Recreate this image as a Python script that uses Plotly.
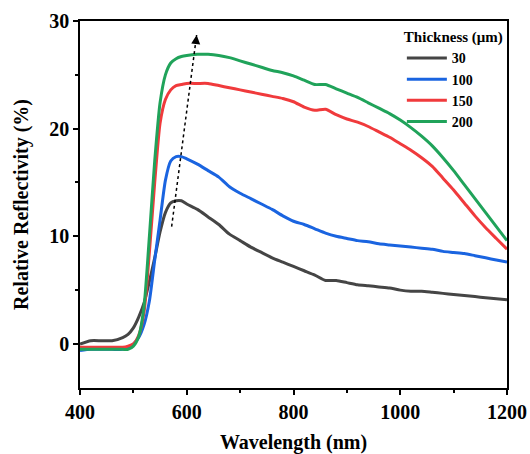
import plotly.graph_objects as go

wavelength = [400, 420, 440, 460, 480, 490, 500, 510, 520, 530, 540, 550, 560, 570, 580, 590, 600,
              620, 640, 660, 680, 700, 720, 740, 760, 780, 800, 820, 840, 860, 880, 900, 920, 940,
              960, 980, 1000, 1020, 1040, 1060, 1080, 1100, 1120, 1140, 1160, 1180, 1200]

r30 = [0.0, 0.3, 0.3, 0.3, 0.6, 0.9, 1.5, 2.5, 3.8, 5.8, 8.0, 10.4, 12.2, 13.1, 13.3, 13.3, 13.0,
       12.5, 11.8, 11.1, 10.2, 9.6, 9.0, 8.5, 8.0, 7.6, 7.2, 6.8, 6.4, 5.9, 5.9, 5.7, 5.5, 5.4,
       5.3, 5.2, 5.0, 4.9, 4.9, 4.8, 4.7, 4.6, 4.5, 4.4, 4.3, 4.2, 4.1]
r100 = [-0.6, -0.5, -0.5, -0.5, -0.5, -0.4, 0.0, 0.6, 1.8, 4.0, 7.8, 11.5, 15.2, 17.0, 17.4, 17.4, 17.2,
        16.7, 16.1, 15.5, 14.6, 14.0, 13.5, 13.0, 12.5, 11.9, 11.4, 11.1, 10.7, 10.3, 10.0, 9.8, 9.6, 9.5,
        9.3, 9.2, 9.1, 9.0, 8.9, 8.8, 8.6, 8.5, 8.4, 8.2, 8.0, 7.8, 7.6]
r150 = [-0.3, -0.3, -0.3, -0.3, -0.3, -0.2, 0.0, 0.8, 3.0, 8.5, 15.0, 20.5, 22.7, 23.6, 24.0, 24.1, 24.2,
        24.2, 24.2, 24.0, 23.8, 23.6, 23.4, 23.2, 23.0, 22.8, 22.5, 22.0, 21.7, 21.8, 21.3, 20.9, 20.6, 20.2,
        19.7, 19.2, 18.6, 18.0, 17.3, 16.5, 15.4, 14.3, 13.1, 11.9, 10.8, 9.8, 8.8]
r200 = [-0.5, -0.5, -0.5, -0.5, -0.5, -0.5, -0.2, 0.7, 3.5, 10.0, 17.0, 22.4, 25.0, 26.1, 26.5, 26.7, 26.8,
        26.9, 26.9, 26.8, 26.6, 26.3, 26.0, 25.7, 25.4, 25.2, 24.9, 24.5, 24.1, 24.1, 23.7, 23.3, 22.9, 22.4,
        21.9, 21.4, 20.8, 20.1, 19.3, 18.4, 17.3, 16.1, 14.8, 13.5, 12.2, 10.9, 9.6]

series_names = ["30", "100", "150", "200"]
series_values = [r30, r100, r150, r200]
colors = ["#454545", "#1a64e0", "#f03a3c", "#20a35a"]

arrow_start = (571.7, 10.9)
arrow_end = (618.5, 28.7)

FONT = "Times New Roman"

fig = go.Figure()
for name, vals, col in zip(series_names, series_values, colors):
    fig.add_trace(go.Scatter(x=wavelength, y=vals, name=name, mode="lines",
                             line=dict(color=col, width=3, shape="spline", smoothing=0.6)))

fig.add_shape(type="line", xref="x", yref="y",
              x0=arrow_start[0], y0=arrow_start[1], x1=arrow_end[0], y1=arrow_end[1],
              line=dict(color="black", width=1.5, dash="dot"))
fig.add_annotation(x=arrow_end[0], y=arrow_end[1], ax=arrow_end[0] - 1.2, ay=arrow_end[1] - 0.6,
                   xref="x", yref="y", axref="x", ayref="y", showarrow=True, arrowhead=2,
                   arrowsize=1.2, arrowwidth=1.5, arrowcolor="black", text="")

axis_common = dict(showline=True, linecolor="black", linewidth=1.5, mirror=True,
                   ticks="outside", ticklen=5, tickwidth=1.5, tickcolor="black",
                   showgrid=False, zeroline=False, automargin=False,
                   tickfont=dict(family=FONT, size=20, color="black", weight="bold"))

fig.update_xaxes(range=[400, 1200], dtick=200,
                 minor=dict(ticks="outside", ticklen=3, tickwidth=1.5, tickcolor="black", dtick=100),
                 title=dict(text="Wavelength (nm)", font=dict(family=FONT, size=20, color="black", weight="bold")),
                 **axis_common)
fig.update_yaxes(range=[-4.09, 30], tickvals=[0, 10, 20, 30],
                 minor=dict(ticks="outside", ticklen=3, tickwidth=1.5, tickcolor="black",
                            tickvals=[-5, 5, 15, 25]),
                 title=dict(text="Relative Reflectivity (%)", font=dict(family=FONT, size=20, color="black", weight="bold")),
                 **axis_common)

fig.update_layout(
    width=530, height=454,
    margin=dict(l=80, r=23, t=21, b=66),
    plot_bgcolor="white", paper_bgcolor="white",
    showlegend=True,
    font=dict(family=FONT, color="black"),
    legend=dict(x=0.995, y=0.995, xanchor="right", yanchor="top",
                bgcolor="rgba(0,0,0,0)", borderwidth=0,
                title=dict(text="Thickness (μm)", side="top", font=dict(family=FONT, size=15, color="black", weight="bold")),
                font=dict(family=FONT, size=14, color="black", weight="bold"),
                tracegroupgap=0, itemwidth=40),
)

fig.write_html("out.html")
